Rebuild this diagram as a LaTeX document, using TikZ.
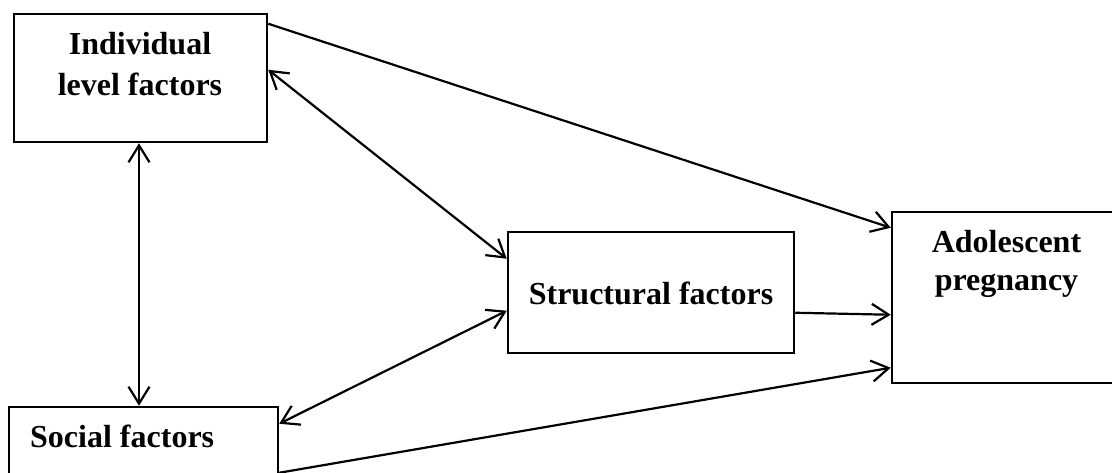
\documentclass[tikz,border=0pt]{standalone}
\usepackage{fontspec}
\setmainfont{Liberation Serif}
\usetikzlibrary{arrows.meta}
\tikzset{
  box/.style={draw, line width=2.5pt, inner sep=0pt},
  lbl/.style={font=\bfseries\fontsize{32}{40}\selectfont, align=center, inner sep=0pt},
  tipx/.tip={Straight Barb[length=17pt,width=21pt]},
  arr/.style={line width=2.2pt, -tipx},
  darr/.style={line width=2.2pt, tipx-tipx}
}
\begin{document}
\begin{tikzpicture}[x=1pt,y=-1pt]
\path[use as bounding box] (0,0) rectangle (1112,473);
\clip (0,0) rectangle (1112,473);
% boxes
\node[box, minimum width=253pt, minimum height=128pt] (ind) at (140.5,78) {};
\node[box, minimum width=269pt, minimum height=93pt] (soc) at (143.5,453.5) {};
\node[box, minimum width=286pt, minimum height=121pt] (str) at (651,292.5) {};
\node[box, minimum width=229pt, minimum height=171pt] (ado) at (1006.5,297.5) {};
% labels
\node[lbl, anchor=north, font=\bfseries\fontsize{32}{41}\selectfont] (indl) at (140,32) {Individual\\level factors};
\node[lbl, anchor=base west] (socl) at (30,447) {Social factors};
\node[lbl, anchor=base] (strl) at (651,305) {Structural factors};
\node[lbl, anchor=north, font=\bfseries\fontsize{32}{38}\selectfont] (adol) at (1006.5,230) {Adolescent\\pregnancy};
% connectors
\draw[arr] ([yshift=-11pt]ind.north east) -- ([yshift=-17pt]ado.north west);
\draw[darr] ([yshift=-57pt]ind.north east) -- ([yshift=-28pt]str.north west);
\draw[arr] ([yshift=-82pt]str.north east) -- ([yshift=-104pt]ado.north west);
\draw[darr] ([yshift=-18pt]soc.north east) -- ([yshift=-80pt]str.north west);
\draw[arr] ([yshift=-67pt]soc.north east) -- ([yshift=-157pt]ado.north west);
\draw[darr] ([xshift=-1.5pt]ind.south) -- ([xshift=-1.5pt]ind.south |- soc.north);
\end{tikzpicture}
\end{document}
